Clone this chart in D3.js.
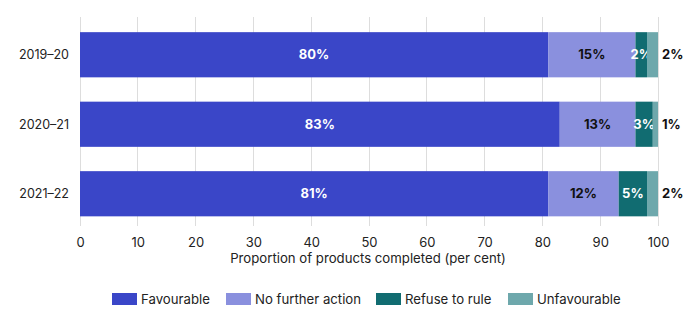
<!DOCTYPE html>
<html><head><meta charset="utf-8">
<script src="https://cdn.jsdelivr.net/npm/d3@7"></script>
<style>body{margin:0;background:#fff;font-family:Inter,"Noto Sans",sans-serif;}</style>
</head><body><svg id="c" width="689" height="325"></svg>
<script>
const years = ["2019–20", "2020–21", "2021–22"];
const seriesNames = ["Favourable", "No further action", "Refuse to rule", "Unfavourable"];
const favourable = [81.0, 83.0, 81.0];
const noFurther = [15.1, 13.1, 12.2];
const refuse = [2.0, 3.0, 4.9];
const unfavourable = [1.9, 0.9, 1.9];
const favLabels = ["80%", "83%", "81%"];
const nfaLabels = ["15%", "13%", "12%"];
const refLabels = ["2%", "3%", "5%"];
const unfLabels = ["2%", "1%", "2%"];
const xTicks = [0,10,20,30,40,50,60,70,80,90,100];
const colors = ["#3a46c8", "#8a90de", "#116c71", "#6ea8ac"];
const labelColors = ["#fff", "#111", "#fff", "#111"];

const svg = d3.select("#c");
const x = d3.scaleLinear().domain([0,100]).range([80,658]);
const y = d3.scaleBand().domain(years).range([20,228.5]).paddingInner(0.35).paddingOuter(0.175);

svg.append("g").selectAll("line").data(xTicks).join("line")
  .attr("x1", d=>x(d)).attr("x2", d=>x(d)).attr("y1", 17).attr("y2", 226)
  .attr("stroke", "#dddddd").attr("stroke-width", 1).attr("shape-rendering","crispEdges");

const rows = years.map((yr,i)=>({year: yr, Favourable: favourable[i], "No further action": noFurther[i], "Refuse to rule": refuse[i], "Unfavourable": unfavourable[i]}));
const labelsBy = [favLabels, nfaLabels, refLabels, unfLabels];
const stack = d3.stack().keys(seriesNames)(rows);

stack.forEach((s, si) => {
  const g = svg.append("g");
  g.selectAll("rect").data(s).join("rect")
    .attr("x", d=>x(d[0])).attr("width", d=>x(d[1])-x(d[0]))
    .attr("y", d=>y(d.data.year)).attr("height", y.bandwidth())
    .attr("fill", colors[si]);
  g.selectAll("text").data(s).join("text")
    .attr("x", d=> si===3 ? x(d[1])+4 : (x(d[0])+x(d[1]))/2)
    .attr("y", d=>y(d.data.year)+y.bandwidth()/2)
    .attr("dy", "0.35em")
    .attr("text-anchor", si===3 ? "start" : "middle")
    .attr("font-size", 13).attr("font-weight", 700)
    .attr("fill", labelColors[si])
    .text((d,i)=>labelsBy[si][i]);
});

svg.append("g").selectAll("text").data(years).join("text")
  .attr("x", 69).attr("y", d=>y(d)+y.bandwidth()/2).attr("dy","0.35em")
  .attr("text-anchor","end").attr("font-size",12.5).attr("fill","#222").text(d=>d);

const xa = svg.append("g").attr("transform","translate(0,226)")
  .call(d3.axisBottom(x).tickValues(xTicks).tickSize(0).tickPadding(12));
xa.select(".domain").remove();
xa.selectAll("text").attr("font-size",13).attr("fill","#222").attr("font-family","Inter,'Noto Sans',sans-serif");

svg.append("text").attr("x", (x(0)+x(100))/2 - 1).attr("y", 263).attr("text-anchor","middle")
  .attr("font-size",13.2).attr("fill","#222").text("Proportion of products completed (per cent)");

const legX = [112, 226, 376, 508];
const leg = svg.append("g").selectAll("g").data(seriesNames).join("g")
  .attr("transform",(d,i)=>`translate(${legX[i]},293)`);
leg.append("rect").attr("width",25).attr("height",12).attr("fill",(d,i)=>colors[i]);
leg.append("text").attr("x",29).attr("y",6).attr("dy","0.35em").attr("font-size",13.2).attr("fill","#222").text(d=>d);
</script></body></html>
